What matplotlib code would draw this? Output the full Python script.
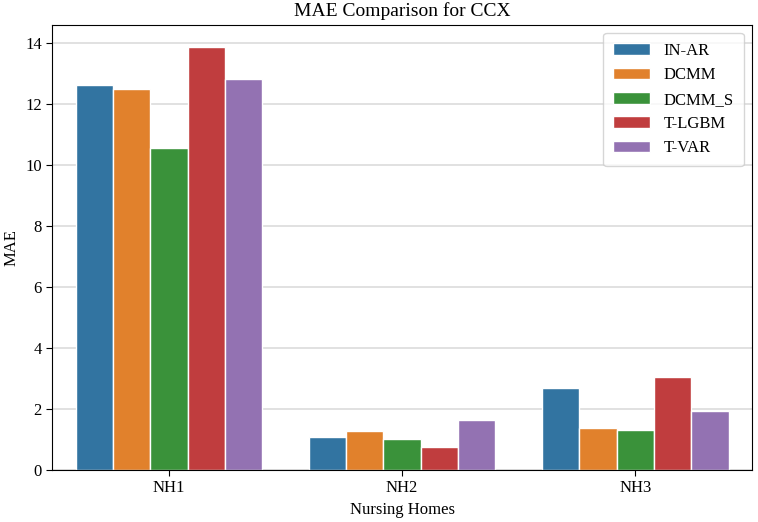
import numpy as np
import matplotlib
matplotlib.use('Agg')
import matplotlib.pyplot as plt

plt.rcParams['font.family'] = ['Liberation Serif', 'DejaVu Serif']

homes = ['NH1', 'NH2', 'NH3']
models = ['IN-AR', 'DCMM', 'DCMM_S', 'T-LGBM', 'T-VAR']
in_ar = [12.62, 1.09, 2.70]
dcmm = [12.49, 1.27, 1.37]
dcmm_s = [10.56, 1.02, 1.32]
t_lgbm = [13.87, 0.77, 3.04]
t_var = [12.82, 1.63, 1.93]
values = [in_ar, dcmm, dcmm_s, t_lgbm, t_var]

colors = ['#3274a1', '#e1812c', '#3a923a', '#c03d3e', '#9372b2']

fig = plt.figure(figsize=(7.58, 5.22), dpi=100)
ax = fig.add_axes([0.069, 0.0996, 0.923, 0.853])

x = np.arange(len(homes))
w = 0.8 / len(models)
for i, (name, vals) in enumerate(zip(models, values)):
    ax.bar(x - 0.4 + w * (i + 0.5), vals, width=w, color=colors[i],
           edgecolor='white', linewidth=1, label=name, zorder=2)

ax.set_xlim(-0.5, 2.5)
ax.set_ylim(0, 14.6)
ax.set_yticks(range(0, 15, 2))
ax.set_xticks(x)
ax.set_xticklabels(homes)
ax.yaxis.grid(True, color='#dcdcdc', linewidth=1.2, zorder=0)
ax.set_axisbelow(True)
ax.tick_params(labelsize=12, length=4)

ax.set_title('MAE Comparison for CCX', fontsize=14)
ax.set_xlabel('Nursing Homes', fontsize=12)
ax.set_ylabel('MAE', fontsize=12)
ax.legend(loc='upper right', fontsize=12, handlelength=2.2, borderpad=0.6)

fig.savefig('out.png', dpi=100)
